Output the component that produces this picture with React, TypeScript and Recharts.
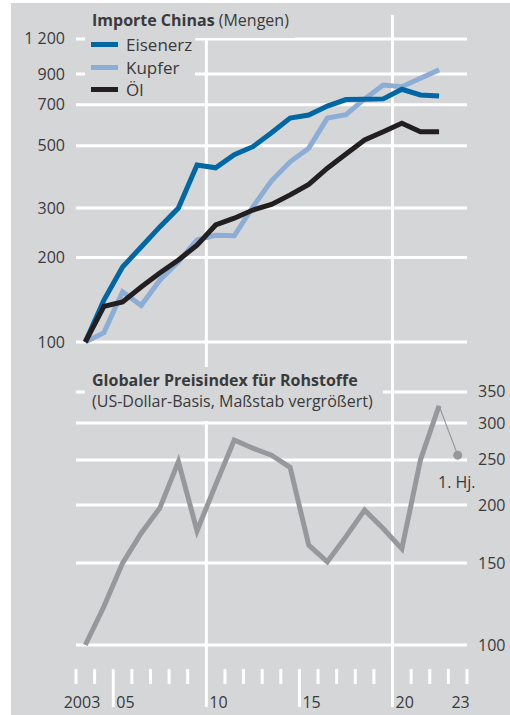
import { LineChart, Line, XAxis, YAxis, ReferenceLine } from "recharts";

const YEARS = [2003, 2004, 2005, 2006, 2007, 2008, 2009, 2010, 2011, 2012, 2013, 2014, 2015, 2016, 2017, 2018, 2019, 2020, 2021, 2022, 2023];

// Importe Chinas, 2003 = 100
const EISENERZ = [100, 141, 185, 218, 257, 300, 427, 417, 464, 496, 556, 627, 643, 692, 730, 732, 734, 794, 758, 752];
const KUPFER = [100, 108, 151, 135, 166, 193, 231, 240, 239, 303, 375, 438, 490, 627, 645, 734, 822, 811, 869, 931];
const OEL = [100, 134, 139, 157, 176, 196, 221, 261, 276, 295, 309, 334, 364, 416, 467, 524, 561, 601, 561, 561];

// Globaler Preisindex für Rohstoffe
const ROHSTOFFE = [100, 121, 150, 174, 197, 248, 176, 221, 276, 265, 256, 241, 164, 151, 171, 195, 178, 161, 250, 327];
const HALBJAHR_YEARS = [2022, 2023];
const HALBJAHR = [327, 256];

const TOP_TICKS = [100, 200, 300, 500, 700, 900, 1200];
const BOTTOM_TICKS = [100, 150, 200, 250, 300, 350];
const X_TICKS = [2003, 2004, 2005, 2006, 2007, 2008, 2009, 2010, 2011, 2012, 2013, 2014, 2015, 2016, 2017, 2018, 2019, 2020, 2021, 2022, 2023, 2024];
const LONG_TICKS = [2005, 2010, 2015, 2020];
const X_LABELS: Record<number, string> = { 2003: "2003", 2005: "05", 2010: "10", 2015: "15", 2020: "20", 2023: "23" };

const BG = "#d5d6d8";
const TEXT = "#3a3a3a";
const C_EISEN = "#0067a5";
const C_KUPFER = "#8caed6";
const C_OEL = "#231f20";
const C_ROH = "#97989b";

const PLOT_BOTTOM = 669;

const data = YEARS.map((y, i) => {
  const h = HALBJAHR_YEARS.indexOf(y);
  return {
    x: y + 0.5,
    eisenerz: EISENERZ[i] ?? null,
    kupfer: KUPFER[i] ?? null,
    oel: OEL[i] ?? null,
    rohstoffe: ROHSTOFFE[i] ?? null,
    halbjahr: h >= 0 ? HALBJAHR[h] : null,
  };
});

const fmt = (v: number) => (v >= 1000 ? `${Math.floor(v / 1000)} ${String(v % 1000).padStart(3, "0")}` : String(v));

const LeftTick = ({ y, payload }: any) => (
  <text x={65} y={y} dy={5.5} textAnchor="end" fontSize={16} fill={TEXT}>
    {fmt(payload.value)}
  </text>
);

const RightTick = ({ y, payload }: any) => (
  <text x={478} y={y} dy={5.5} textAnchor="start" fontSize={16} fill={TEXT}>
    {payload.value}
  </text>
);

const YearTick = ({ x, payload }: any) => {
  const v = payload.value;
  const long = LONG_TICKS.includes(v);
  const label = X_LABELS[v];
  return (
    <g>
      <line x1={x} x2={x} y1={PLOT_BOTTOM} y2={long ? 707 : 684} stroke="#fff" strokeWidth={3} />
      {label && (
        <text x={v === 2003 ? x + 6 : x + 3} y={708} textAnchor={v === 2003 ? "middle" : "start"} fontSize={16} fill={TEXT}>
          {label}
        </text>
      )}
    </g>
  );
};

const HalfDot = (p: any) =>
  p.index === data.length - 1 ? (
    <circle key={p.key} cx={p.cx} cy={p.cy} r={4.5} fill={C_ROH} />
  ) : (
    <g key={p.key} />
  );

const legend = [
  { label: "Eisenerz", color: C_EISEN, top: 44 },
  { label: "Kupfer", color: C_KUPFER, top: 67 },
  { label: "Öl", color: C_OEL, top: 89 },
];

export default function App() {
  return (
    <div style={{ position: "absolute", left: 0, top: 0, width: 510, height: 715, fontFamily: "'Open Sans', sans-serif", color: TEXT }}>
      <div style={{ position: "absolute", left: 11, top: 3, width: 499, height: 712, background: BG }} />
      <div style={{ position: "absolute", left: 0, top: 0 }}>
        <LineChart width={510} height={715} data={data} margin={{ top: 15, right: 0, bottom: 0, left: 0 }}>
          <XAxis dataKey="x" type="number" domain={[2003, 2024]} ticks={X_TICKS} height={46} axisLine={false} tickLine={false} tick={<YearTick />} interval={0} />
          <YAxis yAxisId="top" orientation="left" width={76} scale="log" type="number" domain={[6.85, 1460]} allowDataOverflow ticks={TOP_TICKS} axisLine={false} tickLine={false} tick={<LeftTick />} interval={0} />
          <YAxis yAxisId="bottom" orientation="right" width={43} scale="log" type="number" domain={[88.8, 2263]} allowDataOverflow ticks={BOTTOM_TICKS} axisLine={false} tickLine={false} tick={<RightTick />} interval={0} />
          {TOP_TICKS.map((t) => (
            <ReferenceLine key={`t${t}`} yAxisId="top" y={t} stroke="#fff" strokeWidth={3} />
          ))}
          {BOTTOM_TICKS.map((t) => (
            <ReferenceLine key={`b${t}`} yAxisId="bottom" y={t} stroke="#fff" strokeWidth={3} />
          ))}
          <ReferenceLine yAxisId="top" x={2010} stroke="#fff" strokeWidth={3} />
          <ReferenceLine yAxisId="top" x={2020} stroke="#fff" strokeWidth={3} />
          <Line yAxisId="bottom" dataKey="halbjahr" stroke={C_ROH} strokeWidth={1.2} dot={HalfDot} isAnimationActive={false} />
          <Line yAxisId="bottom" dataKey="rohstoffe" stroke={C_ROH} strokeWidth={5} dot={false} isAnimationActive={false} />
          <Line yAxisId="top" dataKey="kupfer" stroke={C_KUPFER} strokeWidth={5} dot={false} isAnimationActive={false} />
          <Line yAxisId="top" dataKey="eisenerz" stroke={C_EISEN} strokeWidth={5} dot={false} isAnimationActive={false} />
          <Line yAxisId="top" dataKey="oel" stroke={C_OEL} strokeWidth={5} dot={false} isAnimationActive={false} />
        </LineChart>
      </div>

      {/* Titel und Legende oben */}
      <div style={{ position: "absolute", left: 85, top: 7, width: 210, height: 31, background: BG }} />
      <div style={{ position: "absolute", left: 85, top: 37, width: 110, height: 63, background: BG }} />
      <div style={{ position: "absolute", left: 92, top: 9, fontSize: 16, whiteSpace: "nowrap" }}>
        <b>Importe Chinas</b> (Mengen)
      </div>
      {legend.map((l) => (
        <div key={l.label} style={{ position: "absolute", left: 91, top: l.top - 11, height: 22, display: "flex", alignItems: "center", whiteSpace: "nowrap" }}>
          <span style={{ width: 27, height: 5, background: l.color, marginRight: 8 }} />
          <span style={{ fontSize: 17 }}>{l.label}</span>
        </div>
      ))}

      {/* Titel unten */}
      <div style={{ position: "absolute", left: 85, top: 367, width: 298, height: 54, background: BG }} />
      <div style={{ position: "absolute", left: 92, top: 370, fontSize: 16, lineHeight: "21px", whiteSpace: "nowrap" }}>
        <b>Globaler Preisindex für Rohstoffe</b>
        <br />
        (US-Dollar-Basis, Maßstab vergrößert)
      </div>
      <div style={{ position: "absolute", left: 438, top: 471, fontSize: 16, whiteSpace: "nowrap" }}>1. Hj.</div>
    </div>
  );
}
